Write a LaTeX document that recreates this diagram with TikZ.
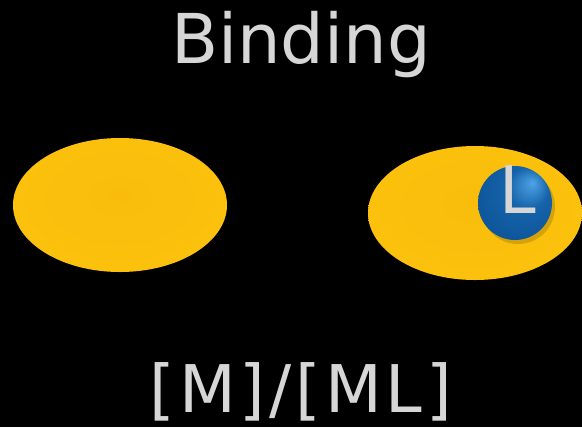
\documentclass[tikz,border=0pt]{standalone}
\usepackage{fontspec}
\setmainfont{DejaVu Sans}
\usetikzlibrary{shapes.geometric}

\definecolor{captiongray}{HTML}{D6D6D6}
\definecolor{metalcore}{HTML}{F9BC0B}
\definecolor{metalmid}{HTML}{FBC20D}
\definecolor{metalrim}{HTML}{FFE434}
\definecolor{ligdeep}{HTML}{0B4F92}
\definecolor{ligmid}{HTML}{1563AA}
\definecolor{ligshine}{HTML}{4FA3E6}

% shadings for the metal body and the ligand bead
\pgfdeclareradialshading{metalbody}{\pgfpoint{0bp}{4bp}}{%
  color(0bp)=(metalcore); color(30bp)=(metalmid); color(46bp)=(metalmid);
  color(50bp)=(metalrim)}
\pgfdeclareradialshading{ligbead}{\pgfpoint{12bp}{14bp}}{%
  color(0bp)=(ligshine); color(14bp)=(ligmid); color(40bp)=(ligdeep);
  color(50bp)=(ligdeep)}

\tikzset{
  metal/.style={ellipse, inner sep=0pt, minimum width=214bp,
    minimum height=134bp, shading=metalbody},
  ligand/.style={circle, inner sep=0pt, minimum size=74bp, shading=ligbead},
  caption/.style={text=captiongray, anchor=base}
}

\begin{document}
\begin{tikzpicture}[x=1bp,y=-1bp]
  % black backdrop
  \fill[black] (0,0) rectangle (582,427);
  \useasboundingbox (0,0) rectangle (582,427);

  % titles
  \node[caption, font=\fontsize{69}{69}\selectfont] (title) at (301,63) {Binding};
  \node[caption, font=\fontsize{66}{66}\selectfont\addfontfeatures{LetterSpace=6}]
    (ratio) at (301,412) {[M]/[ML]};

  % free metal and metal with ligand
  \node[metal] (free) at (120,205) {};
  \node[metal] (bound) at (475,213) {};

  % ligand with its shadow
  \fill[black, opacity=0.15] (518,207) circle (37);
  \node[ligand] (lig) at (515,203) {};
  \node[caption, font=\fontsize{66}{66}\selectfont] (ligtext) at (518,213) {L};
\end{tikzpicture}
\end{document}
